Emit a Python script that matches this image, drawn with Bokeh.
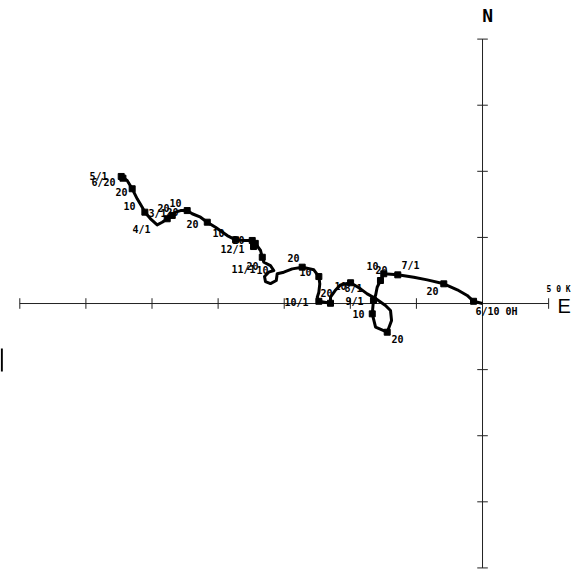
from bokeh.plotting import figure
from bokeh.models import ColumnDataSource
from bokeh.core.properties import value
from bokeh.embed import file_html
from bokeh.resources import INLINE

# Progressive vector path of cumulative drift (km), starting at 6/10 0H at the origin
path_x = [0.0, -6.8, -11.6, -19.1, -29.3, -41.8, -52.0, -64.1, -74.7, -77.2, -79.7, -80.9,
          -82.5, -83.4, -80.9, -72.1, -68.8, -69.6, -73.4, -80.9, -87.2, -92.3, -99.8,
          -107.4, -111.5, -115.0, -115.0, -123.8, -125.0, -123.8, -123.1, -123.8, -127.6,
          -136.4, -143.9, -150.3, -155.3, -156.0, -160.4, -164.2, -164.9, -161.7, -157.9,
          -160.4, -165.4, -166.6, -167.9, -171.7, -174.2, -180.6, -186.8, -193.1, -202.0,
          -208.2, -213.3, -219.6, -223.4, -228.4, -232.2, -234.7, -238.5, -242.3, -246.1,
          -251.1, -255.4, -257.4, -261.2, -265.0, -268.8, -273.3]
path_y = [0.0, 1.7, 6.1, 10.4, 14.9, 17.9, 19.8, 21.7, 22.5, 17.4, 12.3, 6.1,
          2.3, -7.8, -17.9, -21.7, -12.9, -5.3, -1.5, 3.8, 7.3, 11.1, 15.7,
          14.1, 9.8, 4.8, 0.2, 1.7, 4.8, 8.5, 14.9, 20.4, 25.5,
          27.5, 26.2, 23.7, 22.5, 17.4, 15.1, 16.6, 20.4, 23.7, 25.0,
          28.7, 31.2, 35.0, 40.1, 45.2, 47.7, 47.7, 48.2, 51.4, 57.7,
          61.5, 65.3, 67.9, 70.3, 70.3, 69.1, 66.6, 64.1, 61.5, 59.5,
          64.1, 69.1, 72.8, 79.2, 86.8, 93.0, 96.1]

# Ten-day (dekad) positions along the path
dekad_x = [-6.8, -29.3, -64.1, -74.7, -77.2, -82.5, -83.4, -72.1, -99.8, -115.0, -123.8,
           -123.8, -136.4, -166.6, -174.2, -173.2, -171.9, -186.8, -208.2, -223.4, -234.7,
           -238.5, -255.4, -265.0, -273.3, -272.0]
dekad_y = [1.7, 14.9, 21.7, 22.5, 17.4, 2.3, -7.8, -21.7, 15.7, 0.2, 1.7,
           20.4, 27.5, 35.0, 47.7, 43.1, 45.5, 48.2, 61.5, 70.3, 66.6,
           64.1, 69.1, 86.8, 96.1, 94.8]

# Date annotations
label_text = ["5/1", "6/20", "20", "10", "4/1", "3/1", "20", "10", "20", "20", "10", "20",
              "12/1", "11/1", "20", "10", "20", "10", "10/1", "20", "10", "8/1", "9/1",
              "10", "20", "10", "20", "7/1", "20", "6/10 0H"]
label_x = [-290.5, -286.7, -273.1, -267.0, -257.9, -245.8, -241.3, -232.2, -234.5, -219.4,
           -199.7, -184.6, -189.1, -180.8, -174.0, -166.4, -143.0, -133.9, -140.7, -118.0,
           -107.4, -97.6, -96.8, -93.8, -64.3, -83.2, -76.4, -54.5, -37.8, 10.6]
label_y = [96.1, 91.5, 84.0, 73.4, 56.0, 68.1, 71.9, 76.4, 69.6, 60.5,
           53.7, 47.7, 40.8, 25.7, 28.7, 25.0, 34.8, 24.2, 0.8, 7.6,
           12.9, 11.3, 1.5, -7.6, -27.2, 28.7, 25.7, 28.7, 9.8, -6.1]

# Axes: east from -350 to 50 km, north from -200 to 200 km, ticks every 50 km
east_ticks = [-350, -300, -250, -200, -150, -100, -50, 50]
north_ticks = [-200, -150, -100, -50, 50, 100, 150, 200]
east_extent = (-350, 50)
north_extent = (-200, 200)
tick_half = 4.0

p = figure(width=571, height=571, x_range=(-364.6, 67.3), y_range=(-202.7, 229.2),
           output_backend="svg", toolbar_location=None, min_border=0,
           x_axis_type=None, y_axis_type=None)
p.grid.visible = False
p.outline_line_color = None
p.background_fill_color = "white"

axis_color = "#222222"
# main cross
p.segment(x0=[east_extent[0], 0], y0=[0, north_extent[0]],
          x1=[east_extent[1], 0], y1=[0, north_extent[1]],
          line_color=axis_color, line_width=1)
# tick marks
p.segment(x0=east_ticks, x1=east_ticks,
          y0=[-tick_half] * len(east_ticks), y1=[tick_half] * len(east_ticks),
          line_color=axis_color, line_width=1)
p.segment(x0=[-tick_half] * len(north_ticks), x1=[tick_half] * len(north_ticks),
          y0=north_ticks, y1=north_ticks, line_color=axis_color, line_width=1)
# stray edge mark on the left
p.segment(x0=[-363.6], x1=[-363.6], y0=[-34.0], y1=[-51.5], line_color="black", line_width=2)

# drift path
p.line(path_x, path_y, line_color="black", line_width=3, line_join="round")
p.scatter(dekad_x, dekad_y, marker="square", size=6, color="black")

src = ColumnDataSource(dict(x=label_x, y=label_y, t=label_text))
p.text(x="x", y="y", text="t", source=src, text_font=value("DejaVu Sans Mono"),
       text_font_style="bold", text_font_size="10px", text_align="center",
       text_baseline="middle", text_color="black")

# compass letters and scale
p.text(x=[3.8], y=[217.9], text=["N"], text_font=value("DejaVu Sans Mono"),
       text_font_style="bold", text_font_size="18px", text_align="center",
       text_baseline="middle", text_color="black")
p.text(x=[61.8], y=[-1.5], text=["E"], text_font=value("Liberation Sans"),
       text_font_size="20px", text_align="center", text_baseline="middle",
       text_color="black")
p.text(x=[57.5], y=[10.6], text=["5 0 K"], text_font=value("DejaVu Sans Mono"),
       text_font_style="bold", text_font_size="8px", text_align="center",
       text_baseline="middle", text_color="black")

open("out.html", "w").write(file_html(p, INLINE))
